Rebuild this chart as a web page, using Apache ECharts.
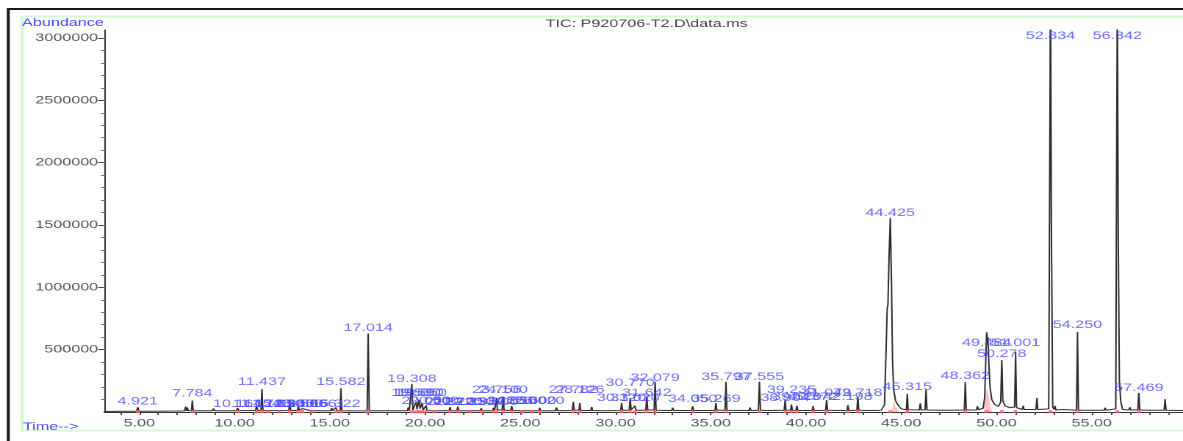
<!DOCTYPE html>
<html><head><meta charset="utf-8">
<script src="https://cdn.jsdelivr.net/npm/echarts@6/dist/echarts.min.js"></script>
<style>
html,body{margin:0;padding:0;overflow:hidden;background:#fff;width:1183px;height:441px}
#chart{width:805px;height:441px;transform:scaleX(1.469565);transform-origin:0 0;}
</style>
</head><body><div id="chart"></div>
<script>
// ---- data (time in min, abundance) ----
const traceTime = [3.15,3.6,4.0,4.86,4.921,4.98,6.05,6.1,6.15,7.0,7.05,7.1,7.38,7.43,7.48,7.52,7.57,7.74,7.784,7.83,8.85,8.9,8.95,10.1,10.16,10.22,11.1,11.16,11.22,11.39,11.437,11.49,11.7,11.75,11.8,12.3,12.35,12.4,12.85,12.9,12.95,13.3,13.35,13.4,13.52,13.56,13.6,14.0,14.06,14.12,14.48,14.52,14.56,15.05,15.1,15.15,15.28,15.32,15.37,15.54,15.582,15.63,16.1,16.15,16.2,16.96,17.014,17.07,18.1,18.15,18.2,19.07,19.12,19.17,19.26,19.308,19.36,19.48,19.53,19.58,19.64,19.69,19.74,19.8,19.85,19.9,20.02,20.06,20.1,20.45,20.5,20.55,21.27,21.31,21.36,21.67,21.72,21.77,22.3,22.35,22.4,22.9,22.95,23.0,23.55,23.6,23.65,23.71,23.756,23.8,24.05,24.1,24.15,24.5,24.55,24.6,25.05,25.1,25.15,25.55,25.6,25.65,25.97,26.02,26.07,26.85,26.9,26.95,27.73,27.782,27.83,28.08,28.126,28.17,28.7,28.75,28.8,29.3,29.35,29.4,30.27,30.32,30.37,30.72,30.77,30.82,30.97,31.02,31.07,31.59,31.642,31.69,32.03,32.079,32.13,32.95,33.0,33.05,34.0,34.05,34.1,35.22,35.269,35.32,35.75,35.797,35.85,37.01,37.06,37.11,37.5,37.555,37.61,38.06,38.11,38.16,38.85,38.904,38.95,39.19,39.235,39.28,39.47,39.52,39.57,40.32,40.372,40.42,41.03,41.079,41.13,42.15,42.198,42.25,42.67,42.718,42.77,43.3,43.35,43.4,43.95,44.12,44.2,44.26,44.3,44.36,44.425,44.49,44.54,44.6,44.7,44.85,45.0,45.27,45.315,45.36,45.95,46.0,46.05,46.25,46.3,46.35,47.2,47.25,47.3,48.31,48.362,48.41,48.95,49.0,49.05,49.3,49.38,49.42,49.45,49.484,49.52,49.55,49.6,49.66,49.75,49.9,50.1,50.22,50.278,50.33,50.45,50.7,50.95,51.001,51.05,51.35,51.4,51.45,52.07,52.12,52.17,52.74,52.79,52.834,52.88,52.95,53.02,53.07,53.12,53.5,53.55,53.6,54.2,54.25,54.3,55.65,55.7,55.75,56.26,56.3,56.342,56.39,56.45,56.52,56.57,56.62,56.95,57.0,57.05,57.42,57.469,57.52,58.01,58.06,58.11,58.35,58.4,58.45,58.8,58.85,58.9,59.79];
const traceAbundance = [4000,5000,6000,6000,38000,6000,7000,18000,7000,8000,22000,8000,9000,42000,10000,36000,10000,10000,92000,10000,10000,28000,10000,10000,32000,11000,12000,48000,12000,12000,183000,13000,12000,26000,12000,11000,26000,11000,12000,72000,12000,12000,46000,12000,11000,27000,11000,10000,23000,10000,10000,21000,10000,10000,32000,10000,10000,36000,10000,10000,190000,10000,9000,18000,9000,10000,630000,10000,10000,20000,10000,10000,36000,11000,11000,225000,14000,15000,82000,22000,26000,96000,26000,22000,72000,16000,13000,52000,11000,10000,26000,10000,10000,40000,10000,10000,44000,10000,10000,26000,10000,10000,30000,10000,10000,34000,12000,14000,110000,16000,16000,120000,14000,12000,48000,12000,10000,24000,10000,10000,22000,10000,10000,34000,10000,10000,36000,10000,12000,82000,14000,14000,72000,12000,12000,40000,12000,10000,20000,10000,12000,72000,14000,14000,112000,18000,16000,50000,14000,14000,126000,16000,16000,243000,14000,12000,34000,12000,12000,46000,12000,12000,72000,14000,14000,243000,14000,12000,36000,12000,14000,243000,14000,12000,26000,12000,14000,96000,14000,14000,60000,14000,12000,50000,12000,12000,48000,12000,14000,96000,14000,12000,54000,12000,14000,120000,14000,12000,26000,12000,14000,60000,480000,830000,860000,1250000,1557000,1000000,420000,180000,90000,50000,25000,18000,145000,18000,16000,70000,16000,16000,177000,16000,14000,30000,14000,16000,240000,16000,16000,46000,18000,30000,120000,330000,500000,640000,540000,600000,380000,200000,100000,60000,45000,80000,417000,90000,50000,35000,40000,481000,35000,20000,50000,20000,20000,112000,20000,25000,1800000,3400000,1500000,40000,20000,48000,16000,20000,32000,14000,14000,642000,14000,14000,34000,14000,25000,1800000,3400000,1400000,250000,90000,50000,20000,16000,38000,16000,16000,152000,16000,14000,30000,14000,14000,30000,14000,14000,104000,14000,12000];

// integration fill (pink) under the merged peaks
const fillTime = [44.5,44.6,44.75,44.9,null,49.35,49.42,49.5,49.6,49.7,49.8];
const fillAbundance = [0,90000,30000,0,null,0,150000,190000,120000,30000,0];

// retention-time labels and the abundance level at which each label sits
const labelTimes = [4.921,7.784,10.164,11.154,11.437,11.748,12.350,12.900,13.350,13.566,14.066,15.322,15.582,17.014,19.308,19.530,19.690,19.850,20.060,20.500,21.310,21.720,22.350,22.950,23.600,23.756,24.100,24.550,25.100,25.600,26.020,27.782,28.126,30.320,30.770,31.020,31.642,32.079,34.050,35.269,35.797,37.555,38.904,39.235,39.520,40.372,41.079,42.198,42.718,44.425,45.315,48.362,49.484,50.278,51.001,52.834,54.250,56.342,57.469];
const labelAbundance = [82600,150000,64000,64000,240600,64000,64000,64000,64000,64000,64000,64000,240600,673700,264700,152000,152000,152000,88000,88000,80000,80000,80000,80000,80000,176000,176000,88000,88000,88000,88000,176000,176000,112000,232600,112000,152000,272700,104000,104000,280700,280700,112000,176000,120000,120000,152000,120000,152000,1596000,200500,288800,553400,465000,553400,3016000,697800,3016000,192500];

const yLabelValues = [500000,1000000,1500000,2000000,2500000,3000000];
const yMinorValues = [100000,200000,300000,400000,600000,700000,800000,900000,1100000,1200000,1300000,1400000,1600000,1700000,1800000,1900000,2100000,2200000,2300000,2400000,2600000,2700000,2800000,2900000];
const xLabelValues = [5,10,15,20,25,30,35,40,45,50,55];
const xTickValues = [4,5,6,7,8,9,10,11,12,13,14,15,16,17,18,19,20,21,22,23,24,25,26,27,28,29,30,31,32,33,34,35,36,37,38,39,40,41,42,43,44,45,46,47,48,49,50,51,52,53,54,55,56,57,58,59];

const FONT = '"Liberation Sans", Arial, sans-serif';
const BLUE = '#4848ff';

const chart = echarts.init(document.getElementById('chart'), null, {devicePixelRatio: 2});
const tracePts = traceTime.map((t, i) => [t, traceAbundance[i]]);
const fillPts = fillTime.map((t, i) => t === null ? '-' : [t, fillAbundance[i]]);
const labelPts = labelTimes.map((t, i) => [t, labelAbundance[i]]);
const markPts = labelTimes.map(t => [t, 3000]);

chart.setOption({
  animation: false,
  backgroundColor: '#fff',
  grid: {left: 70.8, right: 0, top: 30, bottom: 29, containLabel: false},
  xAxis: {
    type: 'value', min: 3.15, max: 59.79,
    axisLine: {show: true, lineStyle: {color: '#333', width: 1}},
    axisTick: {show: true, customValues: xTickValues, length: 3, lineStyle: {color: '#444'}},
    axisLabel: {customValues: xLabelValues, formatter: v => v.toFixed(2), color: '#555', fontSize: 11, fontFamily: FONT, margin: 6},
    splitLine: {show: false}
  },
  yAxis: [{
    type: 'value', min: 0, max: 3064000, position: 'left',
    axisLine: {show: true, lineStyle: {color: '#333', width: 1}},
    axisTick: {show: true, customValues: yLabelValues, length: 4, lineStyle: {color: '#444'}},
    axisLabel: {customValues: yLabelValues, formatter: v => String(Math.round(v)), color: '#555', fontSize: 11, fontFamily: FONT, margin: 4},
    splitLine: {show: false}
  }, {
    type: 'value', min: 0, max: 3064000, position: 'left', offset: 0,
    axisLine: {show: false},
    axisTick: {show: true, customValues: yMinorValues, length: 2, lineStyle: {color: '#666'}},
    axisLabel: {show: false},
    splitLine: {show: false}
  }],
  graphic: [
    {type: 'rect', z: -10, shape: {x: 5.6, y: 9, width: 1000, height: 500}, style: {fill: 'none', stroke: '#1a1a1a', lineWidth: 2}},
    {type: 'rect', z: -9, shape: {x: 15, y: 16.5, width: 1000, height: 414}, style: {fill: 'none', stroke: '#d4f7d4', lineWidth: 2}},
    {type: 'text', style: {x: 15, y: 23, text: 'Abundance', fill: BLUE, font: '11px ' + FONT, align: 'left', verticalAlign: 'middle'}},
    {type: 'text', style: {x: 15.6, y: 427, text: 'Time-->', fill: BLUE, font: '11px ' + FONT, align: 'left', verticalAlign: 'middle'}},
    {type: 'text', style: {x: 440, y: 24, text: 'TIC: P920706-T2.D\\data.ms', fill: '#444', font: '11px ' + FONT, align: 'center', verticalAlign: 'middle'}}
  ],
  series: [
    {type: 'line', data: fillPts, symbol: 'none', connectNulls: false, lineStyle: {width: 0}, areaStyle: {color: '#ffb4b4', opacity: 0.8}, z: 1},
    {type: 'line', data: tracePts, symbol: 'none', clip: true, lineStyle: {color: '#2e2e2e', width: 1}, z: 2},
    {type: 'scatter', data: markPts, symbol: 'rect', symbolSize: [2.5, 3], itemStyle: {color: '#ff5a5a'}, z: 3},
    {type: 'scatter', data: labelPts, symbolSize: 1, itemStyle: {color: 'rgba(0,0,0,0)'}, z: 4,
      label: {show: true, position: 'inside', formatter: p => p.value[0].toFixed(3), color: BLUE, fontSize: 11, fontFamily: FONT}}
  ]
});
</script>
</body></html>
